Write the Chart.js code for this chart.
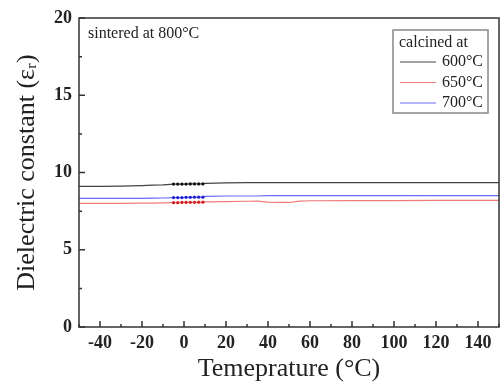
<!DOCTYPE html>
<html>
<head>
<meta charset="utf-8">
<script src="https://cdn.jsdelivr.net/npm/chart.js@4"></script>
<style>
  html, body { margin: 0; padding: 0; background: #fff; }
  #wrap { width: 501px; height: 385px; }
</style>
</head>
<body>
<div id="wrap"><canvas id="dielStats"></canvas></div>
<script>
// temperature points (°C)
const temps = [-50, -40, -30, -20, -15, -10, -5, -3, -1, 1, 3, 5, 7, 9, 10, 20, 30, 35, 40, 45, 50, 55, 60, 80, 100, 120, 150];
// dielectric constant for each calcination temperature
const cal600 = [9.1, 9.1, 9.12, 9.15, 9.18, 9.2, 9.25, 9.25, 9.25, 9.25, 9.26, 9.26, 9.26, 9.26, 9.3, 9.33, 9.34, 9.34, 9.34, 9.34, 9.34, 9.35, 9.35, 9.35, 9.35, 9.35, 9.35];
const cal650 = [8.0, 8.0, 8.0, 8.02, 8.02, 8.03, 8.05, 8.05, 8.06, 8.06, 8.07, 8.07, 8.08, 8.08, 8.1, 8.12, 8.14, 8.15, 8.08, 8.06, 8.06, 8.15, 8.17, 8.18, 8.18, 8.2, 8.2];
const cal700 = [8.32, 8.32, 8.33, 8.33, 8.34, 8.35, 8.38, 8.38, 8.38, 8.39, 8.39, 8.4, 8.4, 8.4, 8.45, 8.48, 8.48, 8.48, 8.5, 8.5, 8.5, 8.5, 8.5, 8.5, 8.5, 8.5, 8.5];
const seriesNames = ['600°C', '650°C', '700°C'];
const seriesColors = ['#444444', '#f07a7a', '#6a6aff'];
const xTicks = [-40, -20, 0, 20, 40, 60, 80, 100, 120, 140];
const xMinor = [-50, -30, -10, 10, 30, 50, 70, 90, 110, 130, 150];
const yTicks = [0, 5, 10, 15, 20];
const yMinor = [2.5, 7.5, 12.5, 17.5];

function pts(vals) {
  return temps.map((t, i) => ({ x: t, y: vals[i] }));
}

function markerRadius(ctx) {
  const t = temps[ctx.dataIndex];
  return (t >= -5 && t <= 9) ? 1.6 : 0;
}

const serif = '"Liberation Serif", "Times New Roman", serif';

const framePlugin = {
  id: 'frame',
  afterDraw(chart) {
    const c = chart.ctx;
    const a = chart.chartArea;
    const xs = chart.scales.x, ys = chart.scales.y;
    c.save();
    c.strokeStyle = '#333';
    c.lineWidth = 1.5;
    c.strokeRect(a.left, a.top, a.right - a.left, a.bottom - a.top);
    // inward ticks
    c.beginPath();
    xTicks.forEach(v => { const p = xs.getPixelForValue(v); c.moveTo(p, a.bottom); c.lineTo(p, a.bottom - 6); });
    xMinor.forEach(v => { const p = xs.getPixelForValue(v); c.moveTo(p, a.bottom); c.lineTo(p, a.bottom - 3); });
    yTicks.forEach(v => { const p = ys.getPixelForValue(v); c.moveTo(a.left, p); c.lineTo(a.left + 6, p); });
    yMinor.forEach(v => { const p = ys.getPixelForValue(v); c.moveTo(a.left, p); c.lineTo(a.left + 3, p); });
    c.stroke();
    // inner note
    c.fillStyle = '#222';
    c.font = '16px ' + serif;
    c.textBaseline = 'middle';
    c.fillText('sintered at 800°C', a.left + 9, a.top + 16);
    // legend box
    const lx = 393, ly = 30, lw = 95, lh = 83;
    c.strokeStyle = '#888';
    c.lineWidth = 1.5;
    c.strokeRect(lx, ly, lw, lh);
    c.font = '16px ' + serif;
    c.fillText('calcined at', lx + 6, ly + 13);
    seriesNames.forEach((n, i) => {
      const yy = ly + 32 + i * 20.5;
      c.strokeStyle = seriesColors[i];
      c.lineWidth = 1.2;
      c.beginPath(); c.moveTo(lx + 7, yy); c.lineTo(lx + 43, yy); c.stroke();
      c.fillStyle = '#222';
      c.textAlign = 'right';
      c.fillText(n, lx + lw - 5, yy);
      c.textAlign = 'left';
    });
    c.restore();
  }
};

const ctx = document.getElementById('dielStats');

new Chart(ctx, {
  type: 'line',
  data: {
    datasets: [
      { label: seriesNames[0], data: pts(cal600), borderColor: seriesColors[0], backgroundColor: '#111', borderWidth: 1.2, pointRadius: markerRadius, pointBorderWidth: 0, tension: 0 },
      { label: seriesNames[1], data: pts(cal650), borderColor: seriesColors[1], backgroundColor: '#d02020', borderWidth: 1.2, pointRadius: markerRadius, pointBorderWidth: 0, tension: 0 },
      { label: seriesNames[2], data: pts(cal700), borderColor: seriesColors[2], backgroundColor: '#2020d0', borderWidth: 1.2, pointRadius: markerRadius, pointBorderWidth: 0, tension: 0 }
    ]
  },
  options: {
    responsive: true,
    maintainAspectRatio: false,
    animation: false,
    layout: { padding: { top: 18, right: 2, left: 0, bottom: 0 } },
    plugins: { legend: { display: false }, tooltip: { enabled: false } },
    scales: {
      x: {
        type: 'linear',
        min: -50,
        max: 150,
        afterBuildTicks: (s) => { s.ticks = xTicks.map(v => ({ value: v })); },
        afterFit: (s) => { s.height = 58; },
        grid: { display: false, drawTicks: false },
        border: { display: false },
        ticks: { color: '#222', padding: 6, font: { family: serif, size: 18, weight: 'bold' } },
        title: { display: true, text: 'Temeprature (°C)', color: '#222', padding: { top: 0, bottom: 0 }, font: { family: serif, size: 26 } }
      },
      y: {
        min: 0,
        max: 20,
        afterBuildTicks: (s) => { s.ticks = yTicks.map(v => ({ value: v })); },
        afterFit: (s) => { s.width = 79; },
        grid: { display: false, drawTicks: false },
        border: { display: false },
        ticks: { color: '#222', padding: 7, font: { family: serif, size: 18, weight: 'bold' } },
        title: { display: true, text: 'Dielectric constant (εᵣ)', color: '#222', padding: { top: 12, bottom: 0 }, font: { family: serif, size: 26 } }
      }
    }
  },
  plugins: [framePlugin]
});
</script>
</body>
</html>
